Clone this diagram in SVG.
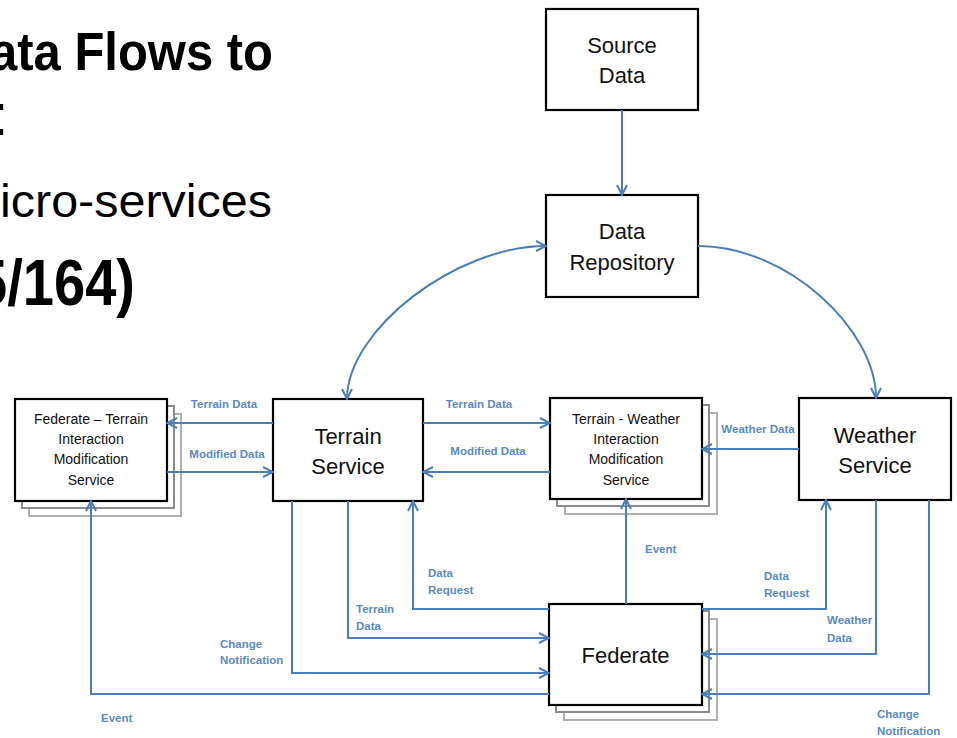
<svg xmlns="http://www.w3.org/2000/svg" width="957" height="738" viewBox="0 0 957 738">
<defs>
<style>
.title{font-family:"Liberation Sans",Arial,sans-serif;fill:#000}
.box{fill:#fff;stroke:#000;stroke-width:2.2}
.sh1{fill:#fff;stroke:#8c8c8c;stroke-width:2}
.sh2{fill:#fff;stroke:#b0b0b0;stroke-width:2}
.big{font-family:"Liberation Sans",Arial,sans-serif;font-size:22px;fill:#111;text-anchor:middle}
.small{font-family:"Liberation Sans",Arial,sans-serif;font-size:14px;fill:#111;text-anchor:middle}
.lbl{font-family:"Liberation Sans",Arial,sans-serif;font-size:11.5px;font-weight:bold;fill:#5A8AC6}
.c{fill:none;stroke:#4A7EBB;stroke-width:2}
</style>
<marker id="ah" viewBox="0 0 12 12" refX="11" refY="6" markerWidth="12" markerHeight="12" markerUnits="userSpaceOnUse" orient="auto-start-reverse">
<path d="M1,1 L11,6 L1,11" fill="none" stroke="#4A7EBB" stroke-width="2"/>
</marker>
</defs>
<rect width="957" height="738" fill="#fff"/>

<g id="title">
<text class="title" x="273" y="70" text-anchor="end" font-size="53" font-weight="bold" textLength="283" lengthAdjust="spacingAndGlyphs">ata Flows to</text>
<text class="title" x="-8" y="135" font-size="60">:</text>
<text class="title" x="0" y="217" font-size="46" textLength="272" lengthAdjust="spacingAndGlyphs">icro-services</text>
<text class="title" x="135" y="305" text-anchor="end" font-size="64" font-weight="bold" textLength="159" lengthAdjust="spacingAndGlyphs">5/164)</text>
</g>

<g id="source-data">
<rect class="box" x="546" y="9" width="152" height="101"/>
<text class="big" x="622" y="53">Source</text>
<text class="big" x="622" y="83">Data</text>
</g>

<g id="data-repository">
<rect class="box" x="546" y="195" width="152" height="102"/>
<text class="big" x="622" y="239">Data</text>
<text class="big" x="622" y="270">Repository</text>
</g>

<g id="federate-terrain-service">
<rect class="sh2" x="29" y="414" width="152" height="102"/>
<rect class="sh1" x="22" y="406" width="152" height="102"/>
<rect class="box" x="15" y="399" width="152" height="102"/>
<text class="small" x="91" y="424">Federate – Terrain</text>
<text class="small" x="91" y="444">Interaction</text>
<text class="small" x="91" y="464">Modification</text>
<text class="small" x="91" y="485">Service</text>
</g>

<g id="terrain-service">
<rect class="box" x="273" y="399" width="150" height="102"/>
<text class="big" x="348" y="444">Terrain</text>
<text class="big" x="348" y="474">Service</text>
</g>

<g id="terrain-weather-service">
<rect class="sh2" x="565" y="413" width="152" height="101"/>
<rect class="sh1" x="557" y="405" width="152" height="101"/>
<rect class="box" x="550" y="398" width="152" height="101"/>
<text class="small" x="626" y="424">Terrain - Weather</text>
<text class="small" x="626" y="444">Interaction</text>
<text class="small" x="626" y="464">Modification</text>
<text class="small" x="626" y="485">Service</text>
</g>

<g id="weather-service">
<rect class="box" x="799" y="398" width="152" height="102"/>
<text class="big" x="875" y="443">Weather</text>
<text class="big" x="875" y="473">Service</text>
</g>

<g id="federate">
<rect class="sh2" x="564" y="619" width="153" height="101"/>
<rect class="sh1" x="556" y="611" width="153" height="101"/>
<rect class="box" x="549" y="604" width="153" height="101"/>
<text class="big" x="625.5" y="663">Federate</text>
</g>

<g id="connectors">
<path class="c" d="M622,110 L622,195" marker-end="url(#ah)"/>
<path class="c" d="M546,246 C456,246 347,330 347,399" marker-start="url(#ah)" marker-end="url(#ah)"/>
<path class="c" d="M698,246 C788,246 876,330 876,398" marker-end="url(#ah)"/>
<path class="c" d="M273,423 L167,423" marker-end="url(#ah)"/>
<path class="c" d="M167,472 L273,472" marker-end="url(#ah)"/>
<path class="c" d="M423,423 L550,423" marker-end="url(#ah)"/>
<path class="c" d="M550,472 L423,472" marker-end="url(#ah)"/>
<path class="c" d="M799,449 L702,449" marker-end="url(#ah)"/>
<path class="c" d="M626,604 L626,499" marker-end="url(#ah)"/>
<path class="c" d="M549,609 L413,609 L413,501" marker-end="url(#ah)"/>
<path class="c" d="M348,501 L348,638 L549,638" marker-end="url(#ah)"/>
<path class="c" d="M292,501 L292,673 L549,673" marker-end="url(#ah)"/>
<path class="c" d="M549,694 L91,694 L91,501" marker-end="url(#ah)"/>
<path class="c" d="M702,609 L826,609 L826,500" marker-end="url(#ah)"/>
<path class="c" d="M876,500 L876,654 L702,654" marker-end="url(#ah)"/>
<path class="c" d="M929,500 L929,694 L702,694" marker-end="url(#ah)"/>
<text class="lbl" x="224" y="408" text-anchor="middle">Terrain Data</text>
<text class="lbl" x="227" y="458" text-anchor="middle">Modified Data</text>
<text class="lbl" x="479" y="408" text-anchor="middle">Terrain Data</text>
<text class="lbl" x="488" y="455" text-anchor="middle">Modified Data</text>
<text class="lbl" x="758" y="433" text-anchor="middle">Weather Data</text>
<text class="lbl" x="645" y="553">Event</text>
<text class="lbl" x="428" y="577">Data</text>
<text class="lbl" x="428" y="594">Request</text>
<text class="lbl" x="356" y="613">Terrain</text>
<text class="lbl" x="356" y="630">Data</text>
<text class="lbl" x="220" y="648">Change</text>
<text class="lbl" x="220" y="664">Notification</text>
<text class="lbl" x="101" y="722">Event</text>
<text class="lbl" x="764" y="580">Data</text>
<text class="lbl" x="764" y="597">Request</text>
<text class="lbl" x="827" y="624">Weather</text>
<text class="lbl" x="827" y="642">Data</text>
<text class="lbl" x="877" y="718">Change</text>
<text class="lbl" x="877" y="735">Notification</text>
</g>
</svg>
